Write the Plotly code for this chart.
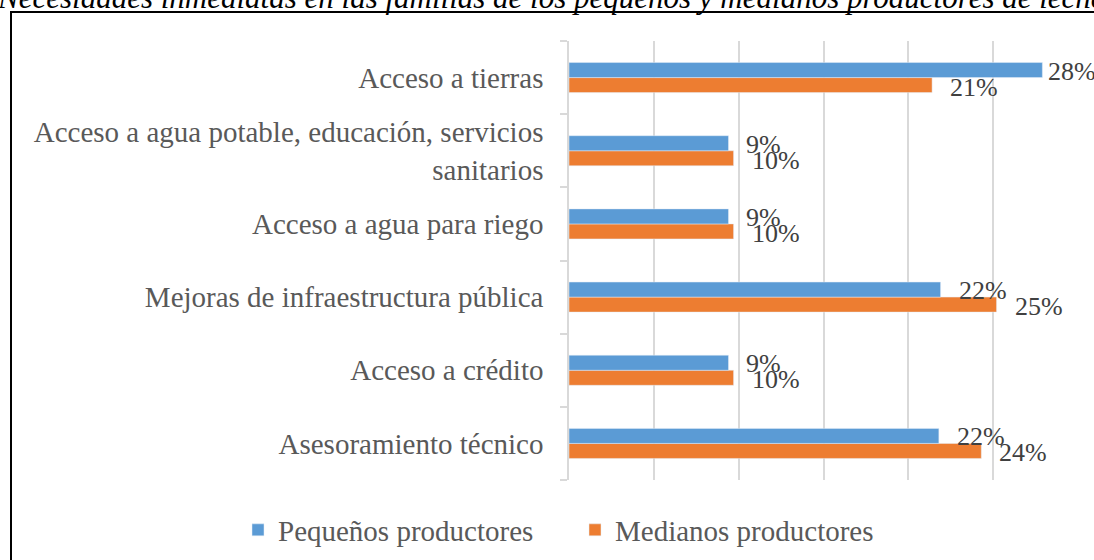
import plotly.graph_objects as go

# categories listed bottom to top (plotly puts the first category at the bottom)
categorias = [
    "Asesoramiento técnico",
    "Acceso a crédito",
    "Mejoras de infraestructura pública",
    "Acceso a agua para riego",
    "Acceso a agua potable, educación, servicios<br>sanitarios",
    "Acceso a tierras",
]
pequenos = [21.8, 9.4, 21.9, 9.4, 9.4, 27.9]
medianos = [24.3, 9.7, 25.2, 9.7, 9.7, 21.4]
etiquetas_peq = ["22%", "9%", "22%", "9%", "9%", "28%"]
etiquetas_med = ["24%", "10%", "25%", "10%", "10%", "21%"]

titulo = "Necesidades inmediatas en las familias de los pequeños y medianos productores de leche"

azul = "#5B9BD5"
naranja = "#ED7D31"
serif = "Liberation Serif"

W, H = 1094, 560
ml, mr, mt, mb = 569, 16, 41, 80
pw = W - ml - mr
ph = H - mt - mb
xmax = 30

fig = go.Figure()
fig.add_trace(go.Bar(y=categorias, x=medianos, orientation="h", name="Medianos productores",
                     marker_color=naranja, hoverinfo="x+name"))
fig.add_trace(go.Bar(y=categorias, x=pequenos, orientation="h", name="Pequeños productores",
                     marker_color=azul, hoverinfo="x+name"))

bar_px = 0.411 / 2 * ph / len(categorias)

# value labels at the end of each bar
def add_labels(vals, labels, yshift):
    for cat, v, t in zip(categorias, vals, labels):
        end_px = ml + v / xmax * pw
        xs = 16 if end_px + 16 + 47 <= W + 2 else 4
        fig.add_annotation(x=v, y=cat, xref="x", yref="y", text=t, showarrow=False,
                           xanchor="left", yanchor="middle", xshift=xs, yshift=yshift,
                           font=dict(family=serif, size=26, color="#404040"))

add_labels(pequenos, etiquetas_peq, bar_px / 2 - 1)
add_labels(medianos, etiquetas_med, -bar_px / 2 - 2)

def px_x(p):
    return (p - ml) / pw

def px_y(p):
    return (H - mb - p) / ph

# frame around the chart (right and bottom edges fall outside the page)
fig.add_shape(type="rect", xref="paper", yref="paper",
              x0=px_x(11), x1=px_x(W + 20), y0=px_y(H + 20), y1=px_y(12),
              line=dict(color="black", width=2), fillcolor="rgba(0,0,0,0)", layer="above")

fig.add_annotation(text=titulo, xref="paper", yref="paper", x=px_x(-5), y=px_y(17),
                   xanchor="left", yanchor="bottom", showarrow=False,
                   font=dict(family=serif, size=31, color="black", style="italic"))

fig.update_layout(
    width=W, height=H,
    margin=dict(l=ml, r=mr, t=mt, b=mb, pad=0, autoexpand=False),
    paper_bgcolor="white", plot_bgcolor="white",
    barmode="group", bargap=0.589, bargroupgap=0,
    showlegend=True,
    legend=dict(orientation="h", x=px_x(238), xanchor="left", y=px_y(530), yanchor="middle",
                traceorder="reversed", entrywidth=292,
                font=dict(family=serif, size=29, color="#595959"), itemclick=False),
    xaxis=dict(range=[0, xmax], dtick=5, showgrid=True, gridcolor="#D9D9D9", gridwidth=1.5,
               showticklabels=False, zeroline=False, showline=False, fixedrange=True),
    yaxis=dict(type="category", categoryorder="array", categoryarray=categorias,
               tickson="boundaries", ticks="outside", ticklen=7, tickcolor="#D9D9D9",
               tickwidth=1.5, showline=True, linecolor="#D9D9D9", linewidth=1.5,
               showgrid=False, tickfont=dict(family=serif, size=29, color="#595959"),
               ticklabelstandoff=18, fixedrange=True),
)

fig.write_html("out.html", config={"displayModeBar": False},
               post_script="document.body.style.margin='0';document.body.style.overflow='hidden';")
